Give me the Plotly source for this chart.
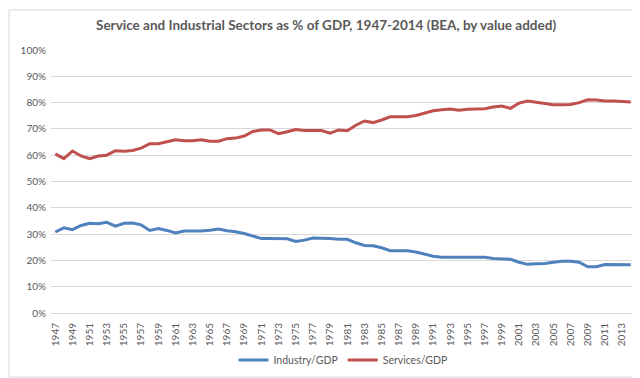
import plotly.graph_objects as go

years = list(range(1947, 2015))
industry_gdp = [
    30.8, 32.4, 31.7, 33.3, 34.1, 33.9, 34.5, 33.0, 34.1, 34.2,
    33.5, 31.4, 32.1, 31.4, 30.4, 31.2, 31.2, 31.2, 31.5, 31.9,
    31.3, 30.9, 30.2, 29.2, 28.3, 28.3, 28.3, 28.2, 27.2, 27.7,
    28.5, 28.5, 28.3, 28.0, 28.0, 26.7, 25.7, 25.6, 24.8, 23.7,
    23.7, 23.7, 23.2, 22.3, 21.6, 21.2, 21.2, 21.2, 21.2, 21.2,
    21.2, 20.7, 20.5, 20.4, 19.3, 18.5, 18.7, 18.8, 19.3, 19.7,
    19.7, 19.3, 17.6, 17.6, 18.4, 18.4, 18.4, 18.3,
]
services_gdp = [
    60.5, 58.7, 61.6, 59.7, 58.7, 59.7, 60.0, 61.7, 61.5, 61.8,
    62.7, 64.4, 64.4, 65.2, 65.9, 65.5, 65.5, 65.9, 65.3, 65.3,
    66.3, 66.5, 67.3, 69.0, 69.6, 69.6, 68.2, 68.9, 69.8, 69.4,
    69.4, 69.4, 68.4, 69.6, 69.3, 71.4, 73.0, 72.4, 73.4, 74.6,
    74.6, 74.6, 75.1, 76.1, 76.9, 77.3, 77.6, 77.1, 77.5, 77.6,
    77.7, 78.3, 78.7, 77.8, 79.8, 80.6, 80.1, 79.6, 79.2, 79.2,
    79.3, 80.0, 81.1, 81.0, 80.6, 80.6, 80.3, 80.2,
]
tick_years = years[::2]
y_ticks = list(range(0, 101, 10))
y_tick_labels = [f"{v}%" for v in y_ticks]

FONT = "Lato"
TXT = "#595959"
GRID = "#d9d9d9"

L, R, T, B = 43, 13, 42, 67
W, H = 640, 378
pw, ph = W - L - R, H - T - B

fig = go.Figure()
fig.add_trace(go.Scatter(x=years, y=industry_gdp, mode="lines", name="Industry/GDP",
                         line=dict(color="#4F81BD", width=3)))
fig.add_trace(go.Scatter(x=years, y=services_gdp, mode="lines", name="Services/GDP",
                         line=dict(color="#C0504D", width=3)))

fig.update_layout(
    width=W, height=H,
    margin=dict(l=L, r=R, t=T, b=B),
    paper_bgcolor="white", plot_bgcolor="white",
    font=dict(family=FONT, color=TXT, size=10),
    title=dict(text="<b>Service and Industrial Sectors as % of GDP, 1947-2014 (BEA, by value added)</b>",
               x=0.497, xref="container", xanchor="center",
               y=1 - 17 / H, yref="container", yanchor="middle",
               font=dict(family=FONT, size=13.5, color=TXT)),
    xaxis=dict(range=[1946.5, 2014.5], tickvals=tick_years, ticktext=[str(y) for y in tick_years],
               tickangle=-90, showgrid=False, showline=True, linecolor=GRID, linewidth=1,
               ticks="", ticklabelstandoff=5, tickfont=dict(size=10, color=TXT),
               zeroline=False, fixedrange=True),
    yaxis=dict(range=[0, 100], tickvals=y_ticks, ticktext=y_tick_labels, showgrid=True,
               gridcolor=GRID, gridwidth=1, zeroline=False, showline=False, ticks="",
               ticklabelstandoff=4, tickfont=dict(size=10, color=TXT), fixedrange=True),
    legend=dict(orientation="h", x=0.5, xanchor="center", y=-(359 - 311) / ph, yanchor="middle",
                font=dict(size=10.5, color=TXT), itemwidth=30, tracegroupgap=0),
    showlegend=True,
    shapes=[dict(type="rect", xref="paper", yref="paper",
                 x0=(1 - L) / pw, x1=(632 - L) / pw,
                 y0=(311 - 376.5) / ph, y1=(311 - 1) / ph,
                 line=dict(color=GRID, width=1), fillcolor="rgba(0,0,0,0)", layer="below")],
)

fig.write_html("out.html")
